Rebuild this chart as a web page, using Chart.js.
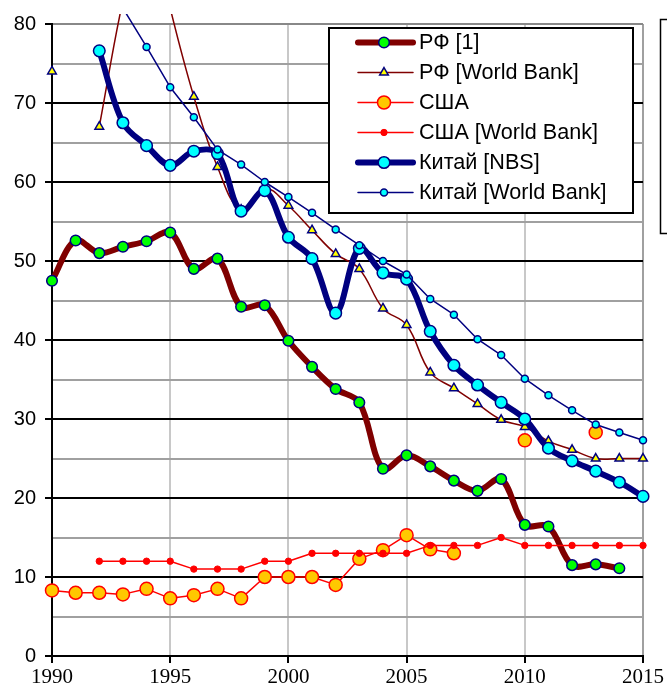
<!DOCTYPE html>
<html>
<head>
<meta charset="utf-8">
<script src="https://cdn.jsdelivr.net/npm/chart.js@4.4.0/dist/chart.umd.min.js"></script>
<style>
  html, body { margin: 0; padding: 0; background: #fff; }
  canvas { display: block; }
</style>
</head>
<body>
<canvas id="chart" width="667" height="690"></canvas>
<script>
// data
var years = [1990, 1991, 1992, 1993, 1994, 1995, 1996, 1997, 1998, 1999, 2000, 2001, 2002,
             2003, 2004, 2005, 2006, 2007, 2008, 2009, 2010, 2011, 2012, 2013, 2014, 2015];
var rf1 = [47.5, 52.6, 51.0, 51.8, 52.5, 53.6, 49.0, 50.3, 44.2, 44.4, 39.9, 36.6, 33.8,
           32.1, 23.7, 25.4, 24.0, 22.2, 20.9, 22.4, 16.6, 16.4, 11.5, 11.6, 11.1, null];
var rfWB = [74.0, null, 67.0, 83.0, 95.0, 82.0, 70.8, 61.9, 56.5, 59.2, 57.0, 53.9, 50.9,
            49.0, 44.0, 41.9, 35.9, 33.9, 31.9, 29.9, 29.0, 27.2, 26.1, 25.0, 25.0, 25.0];
var usa = [8.3, 8.0, 8.0, 7.8, 8.5, 7.3, 7.7, 8.5, 7.3, 10.0, 10.0, 10.0, 9.0,
           12.3, 13.4, 15.3, 13.5, 13.0, null, null, 27.3, null, null, 28.3, null, null];
var usaWB = [null, null, 12, 12, 12, 12, 11, 11, 11, 12, 12, 13, 13,
             13, 13, 13, 14, 14, 14, 15, 14, 14, 14, 14, 14, 14];
var chinaNBS = [null, null, 76.6, 67.5, 64.6, 62.1, 63.9, 63.6, 56.3, 58.9, 53.0, 50.3, 43.4,
                51.6, 48.5, 47.7, 41.1, 36.8, 34.3, 32.1, 30.0, 26.3, 24.7, 23.4, 22.0, 20.2];
var chinaWB = [null, null, null, 82.0, 77.1, 72.0, 68.2, 64.1, 62.2, 60.0, 58.1, 56.1, 54.0,
               52.0, 50.0, 48.3, 45.2, 43.2, 40.1, 38.1, 35.1, 33.0, 31.1, 29.3, 28.3, 27.3];
var labels = ['РФ [1]', 'РФ [World Bank]', 'США', 'США [World Bank]', 'Китай [NBS]', 'Китай [World Bank]'];

function pts(vals) {
    return years.map(function (y, i) { return { x: y, y: vals[i] }; });
}

var clipArea = { left: 12, top: 10, right: 12, bottom: 12 };

var datasets = [
    { label: labels[0], data: pts(rf1), borderColor: '#800000', borderWidth: 6, tension: 0.35,
      pointStyle: 'circle', pointRadius: 5.3, pointBackgroundColor: '#00ff00', pointBorderColor: '#000080', pointBorderWidth: 1.5 },
    { label: labels[1], data: pts(rfWB), borderColor: '#800000', borderWidth: 1.5, tension: 0.4,
      pointStyle: 'triangle', pointRadius: 5, pointBackgroundColor: '#ffff00', pointBorderColor: '#000080', pointBorderWidth: 1.5 },
    { label: labels[2], data: pts(usa), borderColor: '#ff0000', borderWidth: 1.5, tension: 0,
      pointStyle: 'circle', pointRadius: 6.5, pointBackgroundColor: '#ffc800', pointBorderColor: '#ff0000', pointBorderWidth: 1.5 },
    { label: labels[3], data: pts(usaWB), borderColor: '#ff0000', borderWidth: 1.5, tension: 0,
      pointStyle: 'circle', pointRadius: 3.2, pointBackgroundColor: '#ff0000', pointBorderColor: '#ff0000', pointBorderWidth: 1 },
    { label: labels[4], data: pts(chinaNBS), borderColor: '#000080', borderWidth: 6, tension: 0.35,
      pointStyle: 'circle', pointRadius: 5.8, pointBackgroundColor: '#00ffff', pointBorderColor: '#000080', pointBorderWidth: 1.5 },
    { label: labels[5], data: pts(chinaWB), borderColor: '#000080', borderWidth: 1.5, tension: 0,
      pointStyle: 'circle', pointRadius: 3.5, pointBackgroundColor: '#00ffff', pointBorderColor: '#000080', pointBorderWidth: 1.5 }
];
// first in legend drawn at the bottom, like the original
datasets.forEach(function (ds, i) {
    ds.order = datasets.length - i;
    ds.clip = clipArea;
    ds.capBezierPoints = false;
    ds.borderCapStyle = 'round';
    ds.borderJoinStyle = 'round';
    ds.fill = false;
    ds.spanGaps = false;
});

function drawMarker(ctx, ds, x, y) {
    var r = ds.pointRadius;
    ctx.fillStyle = ds.pointBackgroundColor;
    ctx.strokeStyle = ds.pointBorderColor;
    ctx.lineWidth = ds.pointBorderWidth;
    ctx.beginPath();
    if (ds.pointStyle === 'triangle') {
        for (var k = 0; k < 3; k++) {
            var a = k * 2 * Math.PI / 3;
            var px = x + Math.sin(a) * r, py = y - Math.cos(a) * r;
            if (k === 0) ctx.moveTo(px, py); else ctx.lineTo(px, py);
        }
        ctx.closePath();
    } else {
        ctx.arc(x, y, r, 0, Math.PI * 2);
    }
    ctx.fill();
    ctx.stroke();
}

var legendBox = {
    id: 'legendBox',
    afterDraw: function (chart) {
        var ctx = chart.ctx;
        ctx.save();
        // the edge of a second box, cut off by the picture
        ctx.fillStyle = '#fff';
        ctx.strokeStyle = '#000';
        ctx.lineWidth = 1.5;
        ctx.fillRect(660, 19, 40, 214);
        ctx.strokeRect(660.5, 19.5, 40, 214);
        // legend
        ctx.lineWidth = 2;
        ctx.fillRect(329, 28, 304, 185);
        ctx.strokeRect(329, 28, 304, 185);
        chart.data.datasets.forEach(function (ds, i) {
            var y = 42.5 + i * 30;
            ctx.strokeStyle = ds.borderColor;
            ctx.lineWidth = ds.borderWidth;
            ctx.lineCap = 'round';
            ctx.beginPath();
            ctx.moveTo(358, y);
            ctx.lineTo(413, y);
            ctx.stroke();
            drawMarker(ctx, ds, 384, y);
            ctx.fillStyle = '#000';
            ctx.font = '21.6px "Liberation Sans", Arial, sans-serif';
            ctx.textBaseline = 'middle';
            ctx.textAlign = 'left';
            ctx.fillText(ds.label, 419, y + 1);
        });
        ctx.restore();
    }
};

var ctx = document.getElementById('chart');
var myChart = new Chart(ctx, {
    type: 'line',
    data: { datasets: datasets },
    plugins: [legendBox],
    options: {
        responsive: false,
        animation: false,
        layout: { padding: { left: 0, top: 24, right: 24, bottom: 0 } },
        plugins: {
            legend: { display: false },
            tooltip: { enabled: false }
        },
        scales: {
            x: {
                type: 'linear',
                min: 1990,
                max: 2015,
                afterFit: function (s) { s.height = 34; },
                ticks: {
                    stepSize: 5,
                    color: '#000',
                    padding: 2,
                    maxRotation: 0,
                    font: { family: '"Liberation Serif", "Times New Roman", serif', size: 21 },
                    callback: function (v) { return String(v); }
                },
                grid: {
                    color: function (c) { return c.tick && c.tick.value === 2015 ? '#a0a0a0' : '#c8c8c8'; },
                    lineWidth: 2,
                    tickColor: '#000',
                    tickLength: 7
                },
                border: { color: '#000', width: 2 }
            },
            y: {
                min: 0,
                max: 80,
                afterFit: function (s) { s.width = 52; },
                ticks: {
                    stepSize: 5,
                    autoSkip: false,
                    color: '#000',
                    padding: 9,
                    font: { family: '"Liberation Sans", Arial, sans-serif', size: 20 },
                    callback: function (v) { return v % 10 === 0 ? String(v) : ''; }
                },
                grid: {
                    color: function (c) {
                        var v = c.tick ? c.tick.value : 0;
                        if (v === 80) return '#888888';
                        return v % 10 === 0 ? '#000' : '#a0a0a0';
                    },
                    lineWidth: 2,
                    tickColor: function (c) {
                        var v = c.tick ? c.tick.value : 0;
                        return v % 10 === 0 ? '#000' : 'rgba(0,0,0,0)';
                    },
                    tickLength: 7
                },
                border: { color: '#000', width: 2 }
            }
        }
    }
});
</script>
</body>
</html>
